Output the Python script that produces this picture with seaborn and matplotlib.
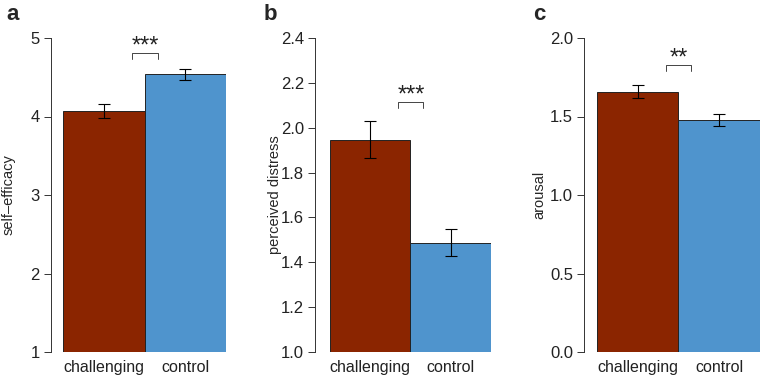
import matplotlib
matplotlib.use("Agg")
import matplotlib.pyplot as plt
import seaborn as sns
import pandas as pd
import numpy as np

conditions = ["challenging", "control"]
self_efficacy = [4.07, 4.54]
self_efficacy_lo = [3.98, 4.47]
self_efficacy_hi = [4.16, 4.61]
distress = [1.945, 1.488]
distress_lo = [1.864, 1.427]
distress_hi = [2.03, 1.55]
arousal = [1.658, 1.48]
arousal_lo = [1.615, 1.44]
arousal_hi = [1.70, 1.518]

ylabels = ["self\u2013efficacy", "perceived distress", "arousal"]
panel_letters = ["a", "b", "c"]
ylims = [(1, 5), (1.0, 2.4), (0.0, 2.0)]
yticks = [[1, 2, 3, 4, 5], [1.0, 1.2, 1.4, 1.6, 1.8, 2.0, 2.2, 2.4],
          [0.0, 0.5, 1.0, 1.5, 2.0]]
ytick_fmt = ["{:.0f}", "{:.1f}", "{:.1f}"]
stars = ["***", "***", "**"]
sig_y = [4.81, 2.113, 1.825]
sig_drop = [0.08, 0.024, 0.038]

colors = ["#8B2500", "#4F94CD"]

sns.set_theme(style="white")
plt.rcParams["font.family"] = ["Liberation Sans", "DejaVu Sans"]

fig = plt.figure(figsize=(7.62, 3.80), dpi=100)
lefts = [51 / 762, 315 / 762, 584.3 / 762]
widths = [175 / 762, 176 / 762, 175.4 / 762]
xmins = [-0.648, -0.686, -0.66]
letter_x = [6 / 762, 264 / 762, 533 / 762]
label_x = [-0.205, -0.19, -0.215]

means_all = [self_efficacy, distress, arousal]
lo_all = [self_efficacy_lo, distress_lo, arousal_lo]
hi_all = [self_efficacy_hi, distress_hi, arousal_hi]

for i in range(3):
    ax = fig.add_axes([lefts[i], 1 - 352 / 380, widths[i], (352 - 38) / 380])
    df = pd.DataFrame({"condition": conditions, "value": means_all[i]})
    sns.barplot(data=df, x="condition", y="value", hue="condition",
                palette=colors, width=1.0, ax=ax, legend=False, saturation=1,
                edgecolor="#222222", linewidth=0.7, errorbar=None)
    m = np.array(means_all[i])
    lo = np.array(lo_all[i])
    hi = np.array(hi_all[i])
    ax.errorbar(np.arange(2), m, yerr=[m - lo, hi - m], fmt="none",
                ecolor="black", elinewidth=0.8, capsize=4.5, capthick=0.8)
    ax.set_ylim(*ylims[i])
    ax.set_xlim(xmins[i], 1.5)
    ax.set_yticks(yticks[i])
    ax.set_yticklabels([ytick_fmt[i].format(t) for t in yticks[i]], fontsize=12)
    ax.set_xlabel("")
    ax.set_ylabel(ylabels[i], fontsize=10.5)
    ax.yaxis.set_label_coords(label_x[i], 0.5)
    ax.tick_params(axis="y", length=5, width=0.7, pad=3, color="#333333",
                   left=True, labelcolor="#222222")
    ax.tick_params(axis="x", length=0, pad=6, labelsize=11.5, labelcolor="#222222")
    for s in ["top", "right", "bottom"]:
        ax.spines[s].set_visible(False)
    ax.spines["left"].set_color("#333333")
    ax.spines["left"].set_linewidth(0.7)
    # significance bracket
    y0 = sig_y[i]
    d = sig_drop[i]
    ax.plot([0.35, 0.35, 0.66, 0.66], [y0 - d, y0, y0, y0 - d],
            color="#444444", lw=0.7, clip_on=False)
    ax.annotate(stars[i], xy=(0.505, y0), xytext=(0, -3),
                textcoords="offset points", ha="center", va="bottom",
                fontsize=17, color="#222222")
    fig.text(letter_x[i], 0.99, panel_letters[i], fontsize=16,
             fontweight="bold", va="top", ha="left")

fig.savefig("out.png", dpi=100)
